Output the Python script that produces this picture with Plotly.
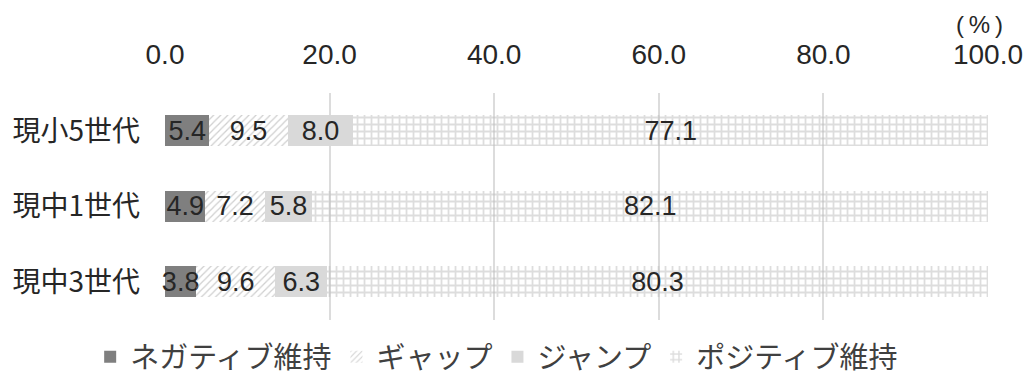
import plotly.graph_objects as go

categories = ["現小5世代", "現中1世代", "現中3世代"]
series_names = ["ネガティブ維持", "ギャップ", "ジャンプ", "ポジティブ維持"]
negative = [5.4, 4.9, 3.8]
gap = [9.5, 7.2, 9.6]
jump = [8.0, 5.8, 6.3]
positive = [77.1, 82.1, 80.3]
x_ticks = [0, 20, 40, 60, 80, 100]

FONT = "Liberation Sans, Arial, Noto Sans CJK JP, sans-serif"
CJK = "Noto Sans CJK JP, sans-serif"
TXT = "#262626"

styles = [
    dict(color="#7f7f7f"),
    dict(color="rgba(255,255,255,0)", pattern=dict(shape="/", fgcolor="#a0a0a0", bgcolor="rgba(255,255,255,0)", size=5, solidity=0.25)),
    dict(color="#d9d9d9"),
    dict(color="rgba(255,255,255,0)", pattern=dict(shape="+", fgcolor="#bcbcbc", bgcolor="rgba(255,255,255,0)", size=7, solidity=0.45)),
]

fig = go.Figure()
for name, vals, st in zip(series_names, [negative, gap, jump, positive], styles):
    fig.add_trace(go.Bar(
        y=categories, x=vals, name=name, orientation="h",
        marker=dict(line=dict(width=0), **st),
        text=[f"{v:.1f}" for v in vals], textposition="inside",
        insidetextanchor="middle",
        textfont=dict(family=FONT, size=27, color=TXT),
        cliponaxis=False,
    ))

fig.update_layout(
    barmode="stack",
    bargap=0.59,
    width=1035, height=379,
    margin=dict(l=164, r=40, t=93, b=52),
    paper_bgcolor="white", plot_bgcolor="white",
    uniformtext=dict(minsize=27, mode="show"),
    font=dict(family=FONT, color=TXT),
    xaxis=dict(
        side="top", range=[0, 100], tickvals=x_ticks, tickformat=".1f",
        showgrid=True, gridcolor="#dcdcdc", gridwidth=2,
        zeroline=False, showline=False, ticks="",
        ticklabelstandoff=22,
        tickfont=dict(family=FONT, size=28, color=TXT),
    ),
    yaxis=dict(
        autorange="reversed", showgrid=False, zeroline=False,
        showline=False, ticks="", ticklabelstandoff=24,
        tickfont=dict(family=CJK, size=28, color=TXT),
    ),
    legend=dict(
        orientation="h", x=0.403, xanchor="center", y=0.058, yanchor="middle",
        yref="container", traceorder="normal",
        font=dict(family=CJK, size=29, color="#404040"),
    ),
    annotations=[dict(
        text="(\u2009%\u2009)", xref="paper", yref="paper", x=0.99, y=1.0,
        yshift=69, showarrow=False, xanchor="center", yanchor="middle",
        font=dict(family=FONT, size=24, color=TXT),
    )],
)

fig.write_html("out.html")
